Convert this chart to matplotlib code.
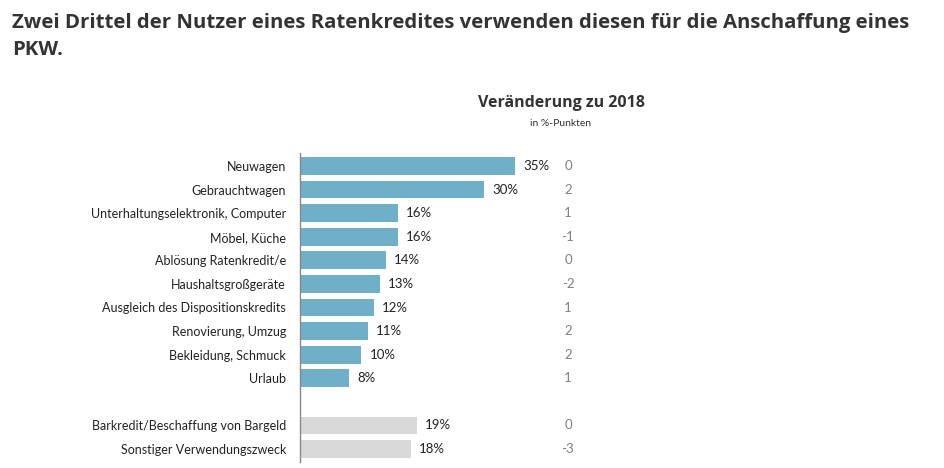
import matplotlib
matplotlib.use("Agg")
import matplotlib.pyplot as plt
from matplotlib.transforms import blended_transform_factory

plt.rcParams['font.family'] = ['Lato', 'DejaVu Sans']

categories = ["Neuwagen", "Gebrauchtwagen", "Unterhaltungselektronik, Computer",
              "Möbel, Küche", "Ablösung Ratenkredit/e", "Haushaltsgroßgeräte",
              "Ausgleich des Dispositionskredits", "Renovierung, Umzug",
              "Bekleidung, Schmuck", "Urlaub"]
values = [35, 30, 16, 16, 14, 13, 12, 11, 10, 8]
changes = ["0", "2", "1", "-1", "0", "-2", "1", "2", "2", "1"]

other_categories = ["Barkredit/Beschaffung von Bargeld", "Sonstiger Verwendungszweck"]
other_values = [19, 18]
other_changes = ["0", "-3"]

title = "Zwei Drittel der Nutzer eines Ratenkredites verwenden diesen für die Anschaffung eines\nPKW."
header = "Veränderung zu 2018"
subheader = "in %-Punkten"

blue = "#6fb0c8"
grey = "#d9d9d9"
txt = "#222222"

fig = plt.figure(figsize=(9.44, 4.68), dpi=100)
ax_left = 300 / 944
ax_right = 590 / 944
ax_top = 1 - 153 / 468
ax_bot = 1 - 462 / 468
ax = fig.add_axes([ax_left, ax_bot, ax_right - ax_left, ax_top - ax_bot])

n_main = len(categories)
pos_main = list(range(n_main))
pos_other = [n_main + 1 + i for i in range(len(other_categories))]

ax.barh(pos_main, values, height=0.75, color=blue)
ax.barh(pos_other, other_values, height=0.75, color=grey)

all_pos = pos_main + pos_other
all_vals = values + other_values
all_labels = categories + other_categories
all_changes = changes + other_changes

xmax = (590 - 300) / (215 / 35)
ax.set_xlim(0, xmax)
ax.set_ylim(all_pos[-1] + 0.55, -0.55)

ax.set_yticks(all_pos)
ax.set_yticklabels(all_labels, fontsize=9, color=txt)
ax.tick_params(axis='y', length=0, pad=10)
ax.set_xticks([])
for s in ["top", "right", "bottom"]:
    ax.spines[s].set_visible(False)
ax.spines["left"].set_color("#888888")
ax.spines["left"].set_linewidth(1.0)

for p, v in zip(all_pos, all_vals):
    ax.text(v + 1.3, p, f"{v}%", va="center", ha="left", fontsize=9.5, color=txt)

tr = blended_transform_factory(ax.transAxes, ax.transData)
cx = (568 - 300) / (590 - 300)
for p, c in zip(all_pos, all_changes):
    ax.text(cx, p, c, va="center", ha="center", fontsize=9.5, color="#808080", transform=tr)

fig.text(561 / 944, 1 - 103 / 468, header, ha="center", va="center",
         fontsize=11.5, fontweight="bold", color="#333333", family=['Open Sans', 'DejaVu Sans'])
fig.text(561 / 944, 1 - 123 / 468, subheader, ha="center", va="center",
         fontsize=7.5, color="#333333")

fig.text(12 / 944, 1 - 13 / 468, title, ha="left", va="top", fontsize=14.7,
         fontweight="bold", color="#333333", linespacing=1.45,
         family=['Open Sans', 'DejaVu Sans'])

fig.savefig("out.png", dpi=100)
